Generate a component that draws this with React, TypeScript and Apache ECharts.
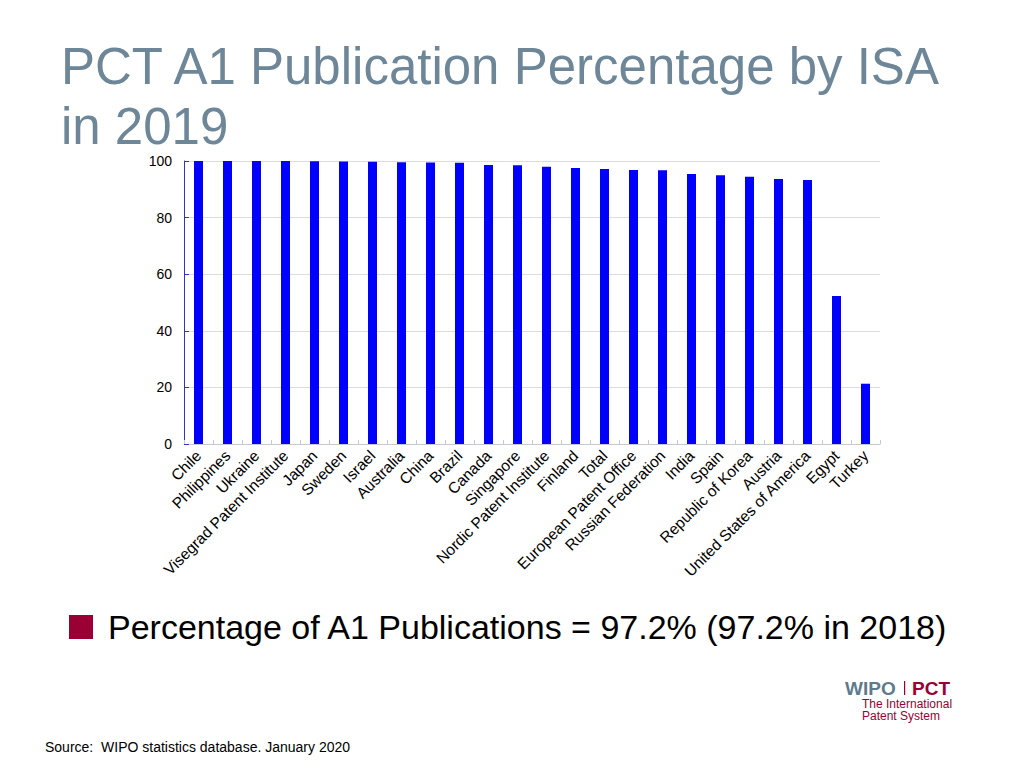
import React, { useEffect, useRef } from "react";
import * as echarts from "echarts";

const categories = [
  "Chile", "Philippines", "Ukraine", "Visegrad Patent Institute", "Japan", "Sweden",
  "Israel", "Australia", "China", "Brazil", "Canada", "Singapore",
  "Nordic Patent Institute", "Finland", "Total", "European Patent Office",
  "Russian Federation", "India", "Spain", "Republic of Korea", "Austria",
  "United States of America", "Egypt", "Turkey",
];
const a1Percentages = [
  100, 100, 100, 100, 99.9, 99.8, 99.7, 99.6, 99.5, 99.4, 98.6, 98.5,
  98.0, 97.5, 97.2, 96.8, 96.7, 95.4, 95.0, 94.4, 93.6, 93.3, 52.3, 21.3,
];
const yTicks = [0, 20, 40, 60, 80, 100];
const totalPct2019 = 97.2;
const totalPct2018 = 97.2;

const titleText = "PCT A1 Publication Percentage by ISA\nin 2019";
const legendText = `Percentage of A1 Publications = ${totalPct2019}% (${totalPct2018}% in 2018)`;
const sourceText = "Source:  WIPO statistics database. January 2020";

const FONT = "'Liberation Sans', Arial, Helvetica, sans-serif";
const MAROON = "#990033";

export default function App() {
  const ref = useRef<HTMLDivElement>(null);
  useEffect(() => {
    document.body.style.margin = "0";
    const chart = echarts.init(ref.current!, null, { renderer: "svg" });
    chart.setOption({
      animation: false,
      backgroundColor: "#ffffff",
      title: {
        text: titleText,
        left: 61,
        top: 36,
        padding: 0,
        textStyle: {
          fontFamily: FONT,
          fontSize: 51,
          fontWeight: "normal",
          lineHeight: 60,
          color: "#6d8698",
        },
      },
      legend: {
        left: 69,
        top: 610,
        padding: 0,
        icon: "rect",
        itemWidth: 24,
        itemHeight: 24,
        selectedMode: false,
        data: [{ name: legendText, itemStyle: { color: MAROON } }],
        textStyle: { fontFamily: FONT, fontSize: 34, color: "#000", padding: [0, 0, 0, 10] },
      },
      grid: { left: 184, right: 144, top: 161, bottom: 324, containLabel: false },
      xAxis: {
        type: "category",
        data: categories,
        axisLine: { lineStyle: { color: "#c8c8d0", width: 1 } },
        axisTick: { show: true, inside: true, length: 4, lineStyle: { color: "#c8c8d0" } },
        axisLabel: {
          interval: 0,
          rotate: 45,
          margin: 9,
          fontFamily: FONT,
          fontSize: 15.5,
          color: "#000",
        },
      },
      yAxis: {
        type: "value",
        min: 0,
        max: 100,
        interval: 20,
        axisLine: { show: true, lineStyle: { color: "#3333cc", width: 1 } },
        axisTick: { show: true, inside: true, length: 5, lineStyle: { color: "#3333cc" } },
        splitLine: { lineStyle: { color: "#dcdcdc" } },
        axisLabel: {
          margin: 12,
          fontFamily: FONT,
          fontSize: 14,
          color: "#000",
          formatter: (v: number) => (yTicks.includes(v) ? String(v) : ""),
        },
      },
      series: [
        {
          name: legendText,
          type: "bar",
          data: a1Percentages,
          barWidth: 9,
          itemStyle: { color: "#0000ff" },
        },
      ],
      graphic: [
        {
          type: "text",
          left: 45,
          top: 740,
          style: { text: sourceText, fontFamily: FONT, fontSize: 14, fill: "#000" },
        },
        {
          type: "text",
          left: 845,
          top: 679,
          style: { text: "WIPO", fontFamily: FONT, fontSize: 19, fontWeight: "bold", fill: "#5f7a8c" },
        },
        {
          type: "rect",
          shape: { x: 904, y: 681, width: 1.2, height: 14 },
          style: { fill: MAROON },
        },
        {
          type: "text",
          left: 912,
          top: 679,
          style: { text: "PCT", fontFamily: FONT, fontSize: 19, fontWeight: "bold", fill: MAROON },
        },
        {
          type: "text",
          left: 862,
          top: 698,
          style: { text: "The International\nPatent System", fontFamily: FONT, fontSize: 12, lineHeight: 12, fill: MAROON },
        },
      ],
    });
    return () => chart.dispose();
  }, []);
  return (
    <div
      ref={ref}
      style={{ position: "fixed", left: 0, top: 0, width: 1024, height: 768 }}
    />
  );
}
